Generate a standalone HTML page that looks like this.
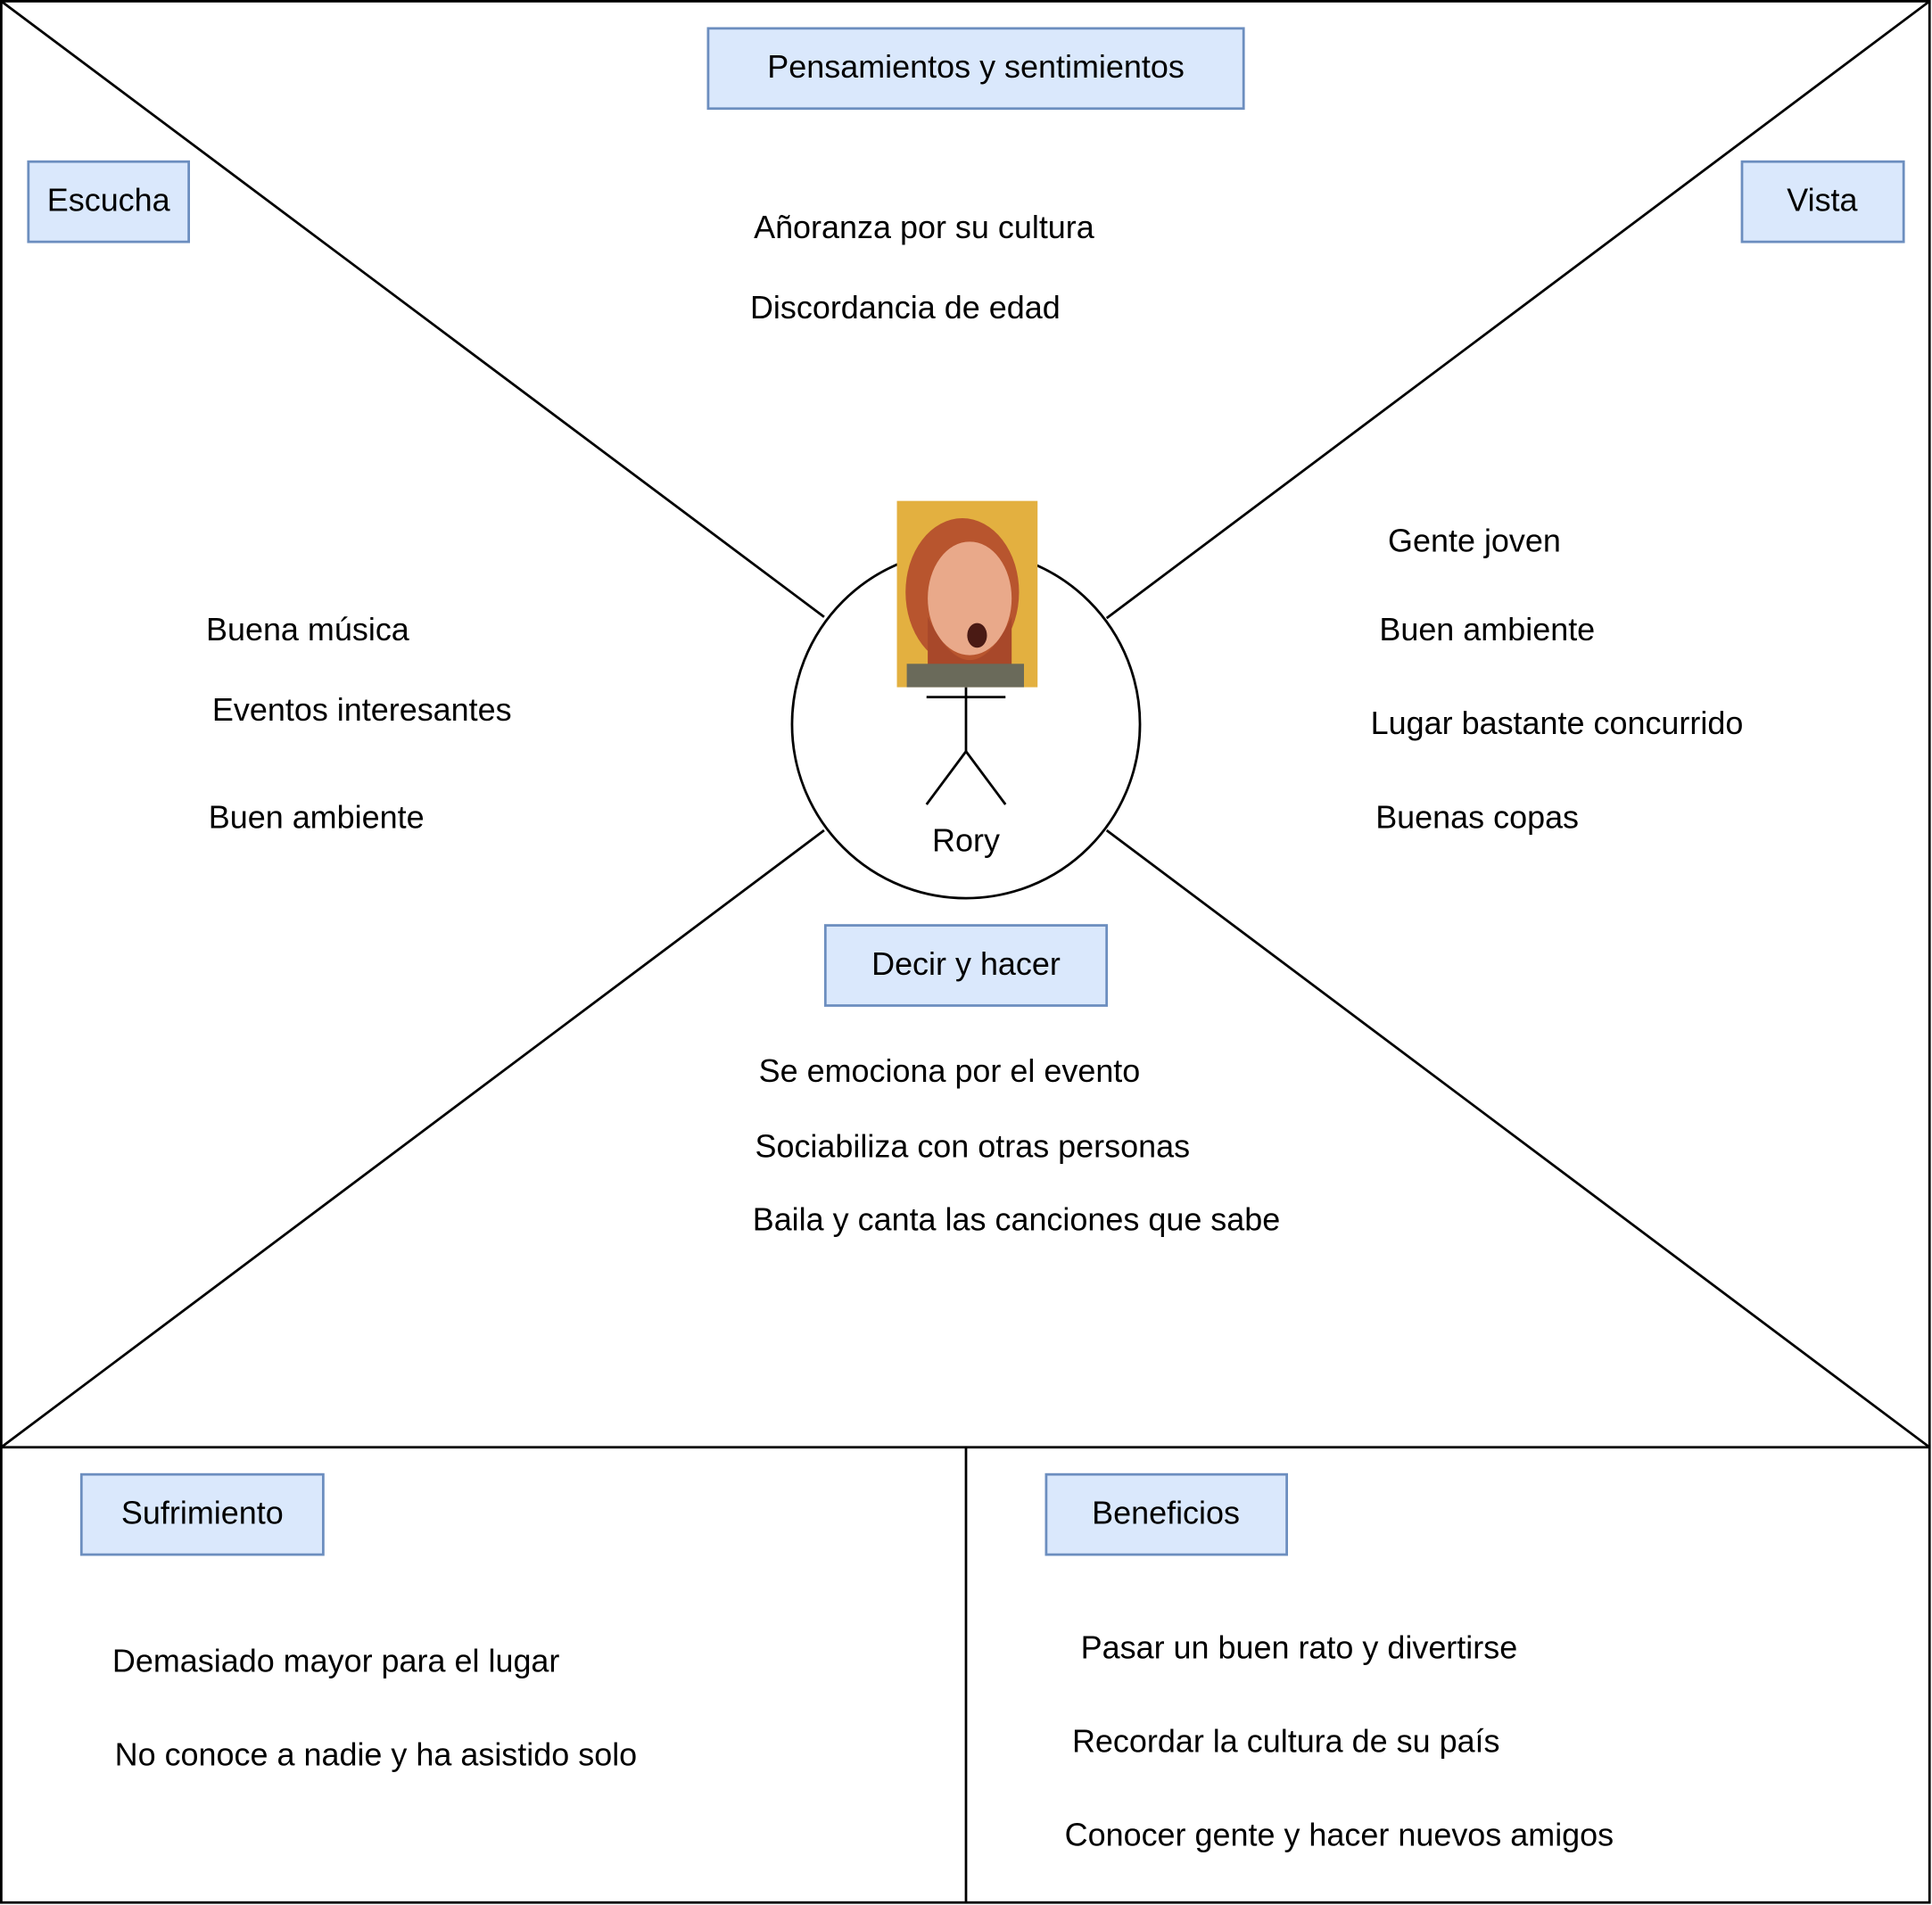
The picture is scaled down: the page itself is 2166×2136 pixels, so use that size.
<!DOCTYPE html>
<html><head><meta charset="utf-8"><style>html,body{margin:0;padding:0;background:#fff}svg{display:block}</style></head>
<body>
<svg width="2166" height="2136" viewBox="0 0 1566 1544" preserveAspectRatio="none" xmlns="http://www.w3.org/2000/svg" font-family="Liberation Sans, Arial, sans-serif" font-size="26" fill="#000">
<rect x="1" y="1" width="1563" height="1541" fill="#fff" stroke="#000" stroke-width="2"/>
<g stroke="#000" stroke-width="2" fill="none">
<line x1="1" y1="1173" x2="1564" y2="1173"/>
<line x1="783" y1="1173" x2="783" y2="1542"/>
<line x1="1" y1="1" x2="668" y2="500"/>
<line x1="1564" y1="1" x2="897" y2="501"/>
<line x1="1" y1="1173" x2="668" y2="673"/>
<line x1="1564" y1="1173" x2="897" y2="673"/>
<circle cx="783" cy="587" r="141" fill="#fff"/>
<line x1="783" y1="557" x2="783" y2="609"/>
<line x1="751" y1="565" x2="815" y2="565"/>
<line x1="783" y1="609" x2="751" y2="652"/>
<line x1="783" y1="609" x2="815" y2="652"/>
</g>
<rect x="727" y="406" width="114" height="151" fill="#e3b040"/>
<ellipse cx="780" cy="480" rx="46" ry="60" fill="#b8552e"/>
<ellipse cx="786" cy="485" rx="34" ry="46" fill="#e9a98a"/>
<path d="M752 500 Q786 570 820 500 L820 540 Q786 560 752 540Z" fill="#a8482a"/>
<ellipse cx="792" cy="515" rx="8" ry="10" fill="#4a1a14"/>
<rect x="735" y="538" width="95" height="19" fill="#6a6a5a"/>
<g fill="#dae8fc" stroke="#6c8ebf" stroke-width="2">
<rect x="574" y="23" width="434" height="65"/>
<rect x="23" y="131" width="130" height="65"/>
<rect x="1412" y="131" width="131" height="65"/>
<rect x="669" y="750" width="228" height="65"/>
<rect x="66" y="1195" width="196" height="65"/>
<rect x="848" y="1195" width="195" height="65"/>
</g>
<g text-anchor="middle">
<text x="791" y="63">Pensamientos y sentimientos</text>
<text x="88" y="171">Escucha</text>
<text x="1477" y="171">Vista</text>
<text x="783" y="790">Decir y hacer</text>
<text x="164" y="1235">Sufrimiento</text>
<text x="945" y="1235">Beneficios</text>
<text x="783" y="690">Rory</text>
</g>
<text x="611" y="193">Añoranza por su cultura</text>
<text x="608" y="258">Discordancia de edad</text>
<text x="167" y="519">Buena música</text>
<text x="172" y="584">Eventos interesantes</text>
<text x="169" y="671">Buen ambiente</text>
<text x="1125" y="447">Gente joven</text>
<text x="1118" y="519">Buen ambiente</text>
<text x="1111" y="595">Lugar bastante concurrido</text>
<text x="1115" y="671">Buenas copas</text>
<text x="615" y="877">Se emociona por el evento</text>
<text x="612" y="938">Sociabiliza con otras personas</text>
<text x="610" y="997">Baila y canta las canciones que sabe</text>
<text x="91" y="1355">Demasiado mayor para el lugar</text>
<text x="93" y="1431">No conoce a nadie y ha asistido solo</text>
<text x="876" y="1344">Pasar un buen rato y divertirse</text>
<text x="869" y="1420">Recordar la cultura de su país</text>
<text x="863" y="1496">Conocer gente y hacer nuevos amigos</text>
</svg>
</body></html>
